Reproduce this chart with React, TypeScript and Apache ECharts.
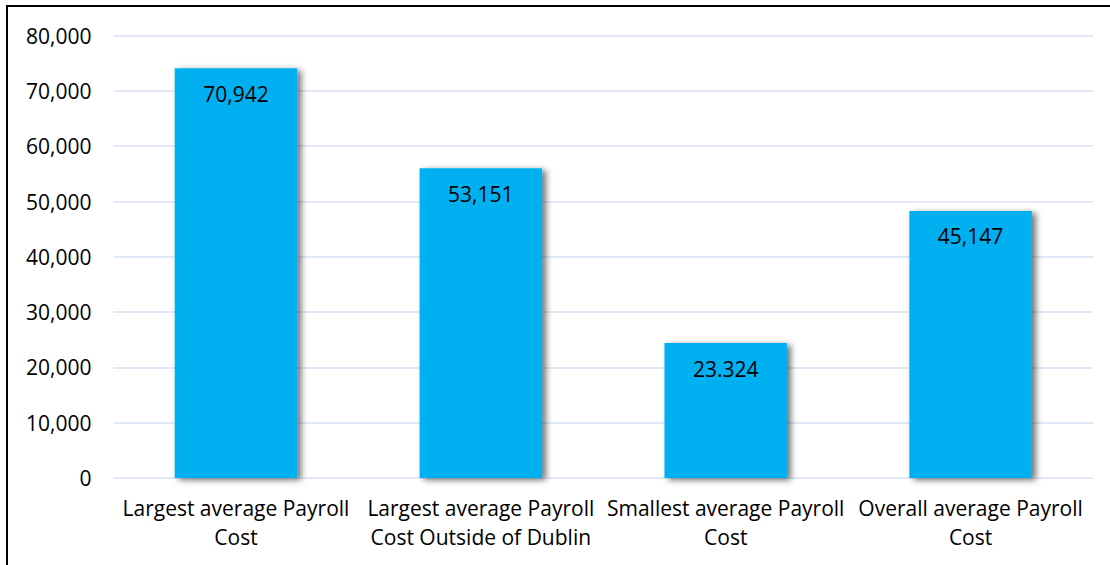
import React, { useEffect, useRef } from "react";
import * as echarts from "echarts";

const categories = [
  "Largest average Payroll Cost",
  "Largest average Payroll Cost Outside of Dublin",
  "Smallest average Payroll Cost",
  "Overall average Payroll Cost",
];
// bar heights as drawn in the reference
const barValues = [74100, 56000, 24400, 48300];
// data label texts as printed in the reference
const barLabels = ["70,942", "53,151", "23.324", "45,147"];
const yTicks = { min: 0, max: 80000, interval: 10000 };

const FONT = "Open Sans";

export default function App() {
  const ref = useRef<HTMLDivElement>(null);
  useEffect(() => {
    if (!ref.current) return;
    const chart = echarts.init(ref.current, undefined, { renderer: "svg" });
    chart.setOption({
      animation: false,
      backgroundColor: "#ffffff",
      textStyle: { fontFamily: FONT },
      grid: { left: 113.5, right: 17, top: 35.6, bottom: 87, containLabel: false },
      graphic: [
        {
          type: "rect",
          shape: { x: 7, y: 6, width: 1300, height: 800 },
          style: { fill: "none", stroke: "#000000", lineWidth: 2 },
          silent: true,
          z: 100,
        },
      ],
      xAxis: {
        type: "category",
        data: categories,
        axisLine: { show: false },
        axisTick: { show: false },
        axisLabel: {
          interval: 0,
          color: "#000000",
          fontFamily: FONT,
          fontSize: 21,
          lineHeight: 29,
          margin: 15,
          formatter: (v: string) => v.replace(" Payroll ", " Payroll\n"),
        },
      },
      yAxis: {
        type: "value",
        min: yTicks.min,
        max: yTicks.max,
        interval: yTicks.interval,
        axisLine: { show: false },
        axisTick: { show: false },
        splitLine: { lineStyle: { color: "#d9e2f3", width: 1.5 } },
        axisLabel: {
          color: "#000000",
          fontFamily: FONT,
          fontSize: 21,
          margin: 22,
          formatter: (v: number) => v.toLocaleString("en-US"),
        },
      },
      series: [
        {
          type: "bar",
          data: barValues,
          barWidth: "50%",
          itemStyle: {
            color: "#00b0f0",
            shadowColor: "rgba(0,0,0,0.55)",
            shadowBlur: 6,
            shadowOffsetX: 4,
            shadowOffsetY: 2,
          },
          label: {
            show: true,
            position: "insideTop",
            distance: 15,
            color: "#000000",
            fontFamily: FONT,
            fontSize: 21,
            formatter: (p: any) => barLabels[p.dataIndex],
          },
        },
      ],
    });
    return () => chart.dispose();
  }, []);
  return (
    <div
      ref={ref}
      style={{ position: "fixed", left: 0, top: 0, width: 1110, height: 565 }}
    />
  );
}
